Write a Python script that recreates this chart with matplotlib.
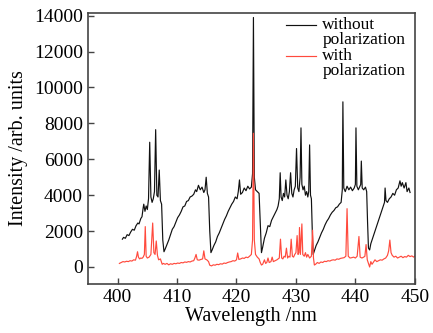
import matplotlib
matplotlib.use("Agg")
import matplotlib.pyplot as plt
from matplotlib.lines import Line2D

# ---------- data ----------
wl_nopol = [400.8, 401.0, 401.3, 401.6, 401.9, 402.2, 402.5, 402.8, 403.1, 403.4, 403.6, 403.9,
            404.1, 404.3, 404.4, 404.6, 404.8, 405.0, 405.2, 405.4, 405.6, 405.8, 406.0, 406.2,
            406.4, 406.6, 406.8, 407.0, 407.2, 407.4, 407.6, 407.8, 408.0, 408.3, 408.6, 408.9,
            409.2, 409.5, 409.8, 410.1, 410.4, 410.7, 411.0, 411.3, 411.6, 411.9, 412.2, 412.5,
            412.8, 413.1, 413.3, 413.6, 413.9, 414.2, 414.5, 414.7, 414.9, 415.1, 415.3, 415.5,
            415.7, 415.9, 416.2, 416.5, 416.8, 417.1, 417.4, 417.7, 418.0, 418.3, 418.6, 418.9,
            419.2, 419.5, 419.8, 420.1, 420.3, 420.5, 420.7, 421.0, 421.3, 421.6, 421.9, 422.2,
            422.5, 422.7, 422.85, 423.0, 423.2, 423.5, 423.8, 424.0, 424.2, 424.4, 424.7, 425.0,
            425.3, 425.6, 425.9, 426.2, 426.5, 426.8, 427.0, 427.2, 427.35, 427.5, 427.7, 427.9,
            428.1, 428.3, 428.5, 428.7, 428.9, 429.1, 429.3, 429.5, 429.7, 429.9, 430.1, 430.3,
            430.5, 430.7, 430.85, 431.0, 431.2, 431.4, 431.6, 431.8, 432.0, 432.15, 432.3, 432.45,
            432.6, 432.75, 432.9, 433.1, 433.4, 433.7, 434.0, 434.3, 434.6, 434.9, 435.2, 435.5,
            435.8, 436.1, 436.4, 436.7, 437.0, 437.3, 437.6, 437.8, 437.9, 438.05, 438.3, 438.6,
            438.9, 439.2, 439.5, 439.8, 440.0, 440.1, 440.25, 440.5, 440.7, 440.9, 441.0, 441.15,
            441.4, 441.7, 441.9, 442.05, 442.2, 442.4, 442.6, 442.9, 443.2, 443.5, 443.8, 444.1,
            444.4, 444.7, 444.9, 445.0, 445.15, 445.4, 445.7, 446.0, 446.3, 446.6, 446.9, 447.2,
            447.5, 447.7, 447.9, 448.2, 448.5, 448.7, 449.0, 449.2]
int_nopol = [1550, 1650, 1600, 1800, 1750, 1950, 2100, 2050, 2300, 2450, 2400, 2700,
             2800, 3300, 3500, 3100, 3400, 3200, 3800, 6950, 3900, 3600, 3800, 4200,
             7650, 4000, 3900, 5400, 3700, 3500, 1500, 850, 1000, 1250, 1500, 1800,
             2100, 2250, 2500, 2750, 2900, 3100, 3350, 3400, 3650, 3700, 3900, 3950,
             4050, 4300, 4200, 4550, 4300, 4450, 4150, 4300, 5000, 4100, 3900, 2000,
             800, 950, 1200, 1400, 1700, 1900, 2150, 2400, 2650, 2850, 3100, 3300,
             3500, 3650, 3900, 3800, 4200, 4850, 4050, 4150, 4400, 4250, 4500, 4350,
             4450, 5200, 13900, 5000, 4300, 4200, 4100, 2500, 800, 1100, 1600, 1900,
             2300, 2250, 2600, 2800, 3000, 3200, 3400, 3800, 5250, 3900, 3700, 4100,
             3900, 4850, 4000, 3800, 4200, 5250, 4100, 3900, 4300, 4500, 6600, 4400,
             4200, 5000, 7750, 4600, 4300, 4500, 4000, 4200, 3900, 4200, 6800, 4000,
             3800, 2000, 700, 900, 1200, 1400, 1650, 1900, 2100, 2350, 2550, 2700,
             2900, 3050, 3150, 3300, 3350, 3500, 3600, 4300, 9200, 4400, 4200, 4500,
             4300, 4450, 4250, 4400, 4600, 7750, 4500, 4300, 4450, 4600, 5900, 4400,
             4300, 4450, 4200, 2500, 1050, 950, 1300, 1600, 1900, 2200, 2500, 2800,
             3100, 3400, 3600, 4400, 3700, 3600, 3800, 3900, 4100, 4000, 4300, 4400,
             4800, 4500, 4700, 4400, 4700, 4200, 4400, 4150]

wl_pol = [400.3, 400.6, 400.9, 401.2, 401.5, 401.8, 402.1, 402.4, 402.7, 403.0, 403.2, 403.35,
          403.5, 403.7, 403.9, 404.1, 404.3, 404.5, 404.65, 404.8, 405.0, 405.3, 405.6, 405.9,
          406.1, 406.3, 406.5, 406.7, 406.9, 407.2, 407.5, 407.7, 408.0, 408.3, 408.6, 408.9,
          409.2, 409.5, 409.8, 410.1, 410.4, 410.7, 411.0, 411.3, 411.6, 411.9, 412.2, 412.5,
          412.8, 413.0, 413.2, 413.4, 413.7, 414.0, 414.3, 414.5, 414.7, 415.0, 415.3, 415.5,
          415.8, 416.1, 416.4, 416.7, 417.0, 417.3, 417.6, 417.9, 418.2, 418.5, 418.8, 419.1,
          419.4, 419.7, 420.0, 420.2, 420.4, 420.7, 421.0, 421.3, 421.6, 421.9, 422.2, 422.5,
          422.7, 422.85, 423.0, 423.2, 423.5, 423.8, 424.0, 424.2, 424.4, 424.7, 424.9, 425.1,
          425.3, 425.5, 425.8, 426.0, 426.2, 426.5, 426.8, 427.0, 427.2, 427.4, 427.6, 427.8,
          428.0, 428.2, 428.4, 428.6, 428.8, 429.0, 429.2, 429.4, 429.6, 429.8, 430.0, 430.2,
          430.35, 430.5, 430.6, 430.75, 431.0, 431.15, 431.4, 431.6, 431.8, 432.0, 432.3, 432.6,
          432.8, 432.95, 433.1, 433.3, 433.6, 433.9, 434.2, 434.5, 434.8, 435.1, 435.4, 435.7,
          436.0, 436.3, 436.6, 436.9, 437.2, 437.5, 437.8, 438.1, 438.4, 438.6, 438.8, 439.1,
          439.4, 439.7, 440.0, 440.3, 440.6, 440.8, 441.1, 441.4, 441.6, 441.8, 442.0, 442.2,
          442.4, 442.6, 442.8, 443.0, 443.3, 443.6, 443.9, 444.2, 444.5, 444.8, 445.1, 445.4,
          445.6, 445.8, 446.0, 446.2, 446.5, 446.8, 447.1, 447.4, 447.7, 448.0, 448.3, 448.6,
          448.9, 449.2, 449.5, 449.8, 450.0]
int_pol = [200, 250, 300, 280, 320, 300, 350, 330, 400, 380, 600, 850,
           550, 450, 500, 480, 550, 700, 2250, 600, 500, 550, 700, 2450,
           800, 700, 1450, 650, 400, 450, 150, 200, 150, 200, 120, 180,
           150, 200, 180, 220, 200, 250, 230, 280, 260, 300, 280, 330,
           350, 500, 700, 400, 380, 420, 450, 900, 450, 400, 300, 100,
           60, 120, 100, 150, 130, 180, 160, 220, 200, 250, 280, 300,
           350, 330, 400, 780, 420, 450, 500, 480, 550, 520, 600, 700,
           1500, 7450, 1500, 700, 550, 450, 250, 110, 150, 400, 200, 250,
           500, 250, 300, 550, 300, 350, 400, 450, 500, 1550, 500, 450,
           600, 550, 1050, 500, 600, 550, 1550, 600, 550, 700, 800, 1750,
           700, 800, 2200, 700, 2400, 700, 600, 800, 550, 700, 500, 600,
           2050, 500, 110, 150, 250, 200, 280, 250, 320, 300, 350, 330,
           380, 400, 380, 450, 430, 480, 500, 520, 600, 3250, 600, 500,
           520, 550, 500, 600, 1700, 550, 500, 550, 600, 1250, 400, 200,
           0, 300, 150, 250, 400, 300, 350, 400, 380, 450, 500, 650,
           900, 1500, 800, 650, 550, 600, 500, 550, 600, 520, 580, 550,
           650, 580, 620, 550, 610]

x_ticks = [400, 410, 420, 430, 440, 450]
y_ticks = [0, 2000, 4000, 6000, 8000, 10000, 12000, 14000]
labels = ["without\npolarization", "with\npolarization"]
colors = ["#111111", "#ff4a3d"]

plt.rcParams["font.family"] = ["Liberation Serif", "DejaVu Serif"]

fig = plt.figure(figsize=(4.33, 3.33), dpi=100)
ax = fig.add_axes([0.203, 0.147, 0.755, 0.814])

ax.plot(wl_nopol, int_nopol, color=colors[0], lw=0.85)
ax.plot(wl_pol, int_pol, color=colors[1], lw=0.85)

ax.set_xlim(395, 450)
ax.set_ylim(-950, 14150)
ax.set_xticks(x_ticks)
ax.set_yticks(y_ticks)
ax.tick_params(direction="in", length=4, width=1, labelsize=14, color="#444444",
               top=False, right=False)
for sp in ax.spines.values():
    sp.set_color("#444444")
    sp.set_linewidth(1.2)

ax.set_xlabel("Wavelength /nm", fontsize=14.5, labelpad=1)
ax.set_ylabel("Intensity /arb. units", fontsize=14.5, labelpad=4)

# legend drawn by hand so the handle sits on the first text line
line_step = 0.057
for i, (lab, c) in enumerate(zip(labels, colors)):
    y0 = 0.956 - i * 2 * line_step
    ax.add_line(Line2D([0.606, 0.697], [y0, y0], transform=ax.transAxes, color=c, lw=0.85))
    for j, part in enumerate(lab.split("\n")):
        ax.text(0.717, y0 - j * line_step, part, transform=ax.transAxes, fontsize=12.5,
                va="center", ha="left")

fig.savefig("out.png", dpi=100)
